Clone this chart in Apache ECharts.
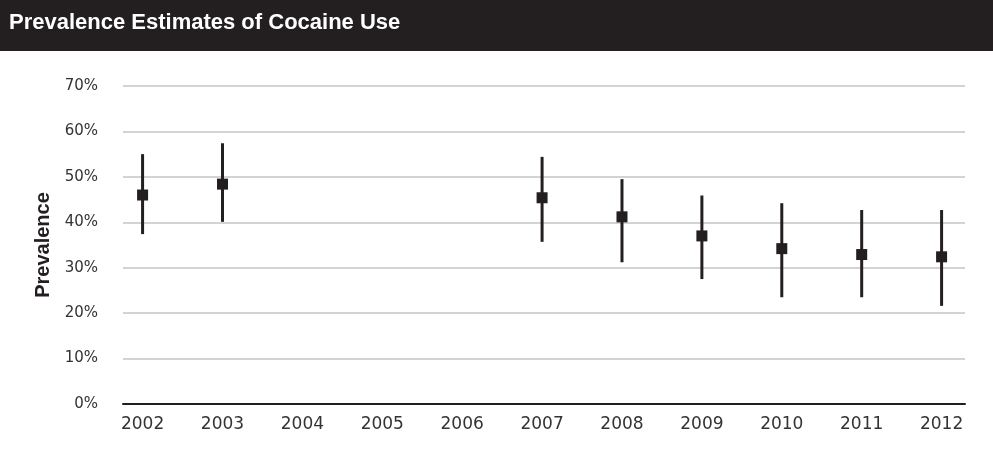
<!DOCTYPE html>
<html>
<head>
<meta charset="utf-8">
<script src="https://cdn.jsdelivr.net/npm/echarts@6/dist/echarts.min.js"></script>
<style>
html,body{margin:0;padding:0;background:#fff;}
#chart{width:993px;height:461px;}
</style>
</head>
<body>
<div id="chart"></div>
<script>
const years = [2002, 2003, 2007, 2008, 2009, 2010, 2011, 2012];
const estimates = [46.0, 48.4, 45.4, 41.2, 37.0, 34.2, 32.9, 32.4];
const lowerBounds = [37.4, 40.1, 35.7, 31.2, 27.5, 23.5, 23.5, 21.6];
const upperBounds = [55.0, 57.4, 54.4, 49.5, 45.9, 44.2, 42.7, 42.7];
const xTickLabels = [2002, 2003, 2004, 2005, 2006, 2007, 2008, 2009, 2010, 2011, 2012];
const yTicks = [0, 10, 20, 30, 40, 50, 60, 70];

const ink = '#231f20';
const chart = echarts.init(document.getElementById('chart'));

const pointData = years.map((y, i) => [y, estimates[i]]);
const barData = years.map((y, i) => [y, lowerBounds[i], upperBounds[i]]);

chart.setOption({
  animation: false,
  backgroundColor: '#ffffff',
  graphic: [
    { type: 'rect', left: 0, top: 0, shape: { x: 0, y: 0, width: 993, height: 51 }, style: { fill: ink }, z: 10 },
    { type: 'text', left: 9, top: 12, z: 11,
      style: { text: 'Prevalence Estimates of Cocaine Use', fill: '#ffffff',
        font: 'bold 22px "Liberation Sans", Arial, sans-serif' } }
  ],
  grid: { left: 123, right: 28, top: 86, bottom: 57, containLabel: false },
  xAxis: {
    type: 'value',
    min: 2001.755,
    max: 2012.293,
    axisLine: { show: true, lineStyle: { color: ink, width: 2 } },
    axisTick: { show: false },
    splitLine: { show: false },
    axisLabel: {
      customValues: xTickLabels,
      formatter: v => String(v),
      color: '#333333',
      fontFamily: '"DejaVu Sans", sans-serif',
      fontSize: 17,
      margin: 12
    }
  },
  yAxis: {
    type: 'value',
    min: 0,
    max: 70,
    interval: 10,
    name: 'Prevalence',
    nameLocation: 'middle',
    nameGap: 70,
    nameRotate: 90,
    nameTextStyle: {
      color: ink,
      fontWeight: 'bold',
      fontSize: 20,
      fontFamily: '"Liberation Sans", Arial, sans-serif'
    },
    axisLine: { show: false },
    axisTick: { show: false },
    splitLine: { show: true, lineStyle: { color: '#d3d3d3', width: 2 } },
    axisLabel: {
      formatter: '{value}%',
      color: '#333333',
      fontFamily: '"DejaVu Sans", sans-serif',
      fontSize: 15,
      margin: 25
    }
  },
  series: [
    {
      type: 'custom',
      data: barData,
      z: 2,
      renderItem: function (params, api) {
        const x = api.value(0);
        const lo = api.coord([x, api.value(1)]);
        const hi = api.coord([x, api.value(2)]);
        return {
          type: 'line',
          shape: { x1: lo[0], y1: lo[1], x2: hi[0], y2: hi[1] },
          style: { stroke: ink, lineWidth: 3 }
        };
      }
    },
    {
      type: 'scatter',
      data: pointData,
      symbol: 'rect',
      symbolSize: 11,
      z: 3,
      itemStyle: { color: ink, opacity: 1 }
    }
  ]
});
</script>
</body>
</html>
